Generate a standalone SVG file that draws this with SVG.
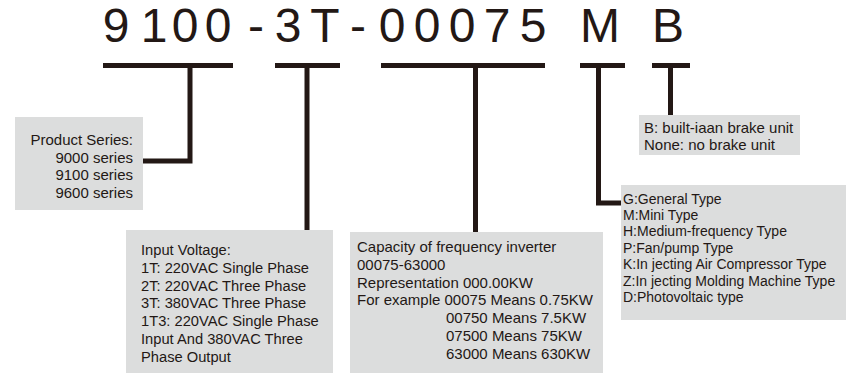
<svg xmlns="http://www.w3.org/2000/svg" width="850" height="373" viewBox="0 0 850 373">
<style>
.bx{fill:#dcdddd}
.t{font-family:"Liberation Sans",Arial,sans-serif;fill:#231815}
.c{fill:none;stroke:#231815;stroke-width:5;stroke-linejoin:miter}
</style>
<rect width="850" height="373" fill="#fff"/>
<g id="title">
<text class="t" font-size="48" text-anchor="middle" y="42" x="116 154 185 218 256 288 325 358 392 427 462 497 533 600 668">9100-3T-00075MB</text>
</g>
<g id="connectors">
<path class="c" d="M103,65.5H233M190,65.5V161H143"/>
<path class="c" d="M275,65.5H340M307,65.5V230"/>
<path class="c" d="M381,65.5H545M475.5,65.5V232"/>
<path class="c" d="M580,65.5H625M598.5,65.5V203H621"/>
<path class="c" d="M652,65.5H690M670.5,65.5V115"/>
</g>
<g id="series">
<rect class="bx" x="15" y="117" width="128" height="93"/>
<text class="t" font-size="15" text-anchor="end"><tspan x="133" y="145">Product Series:</tspan><tspan x="133" y="162.5">9000 series</tspan><tspan x="133" y="180">9100 series</tspan><tspan x="133" y="197.5">9600 series</tspan></text>
</g>
<g id="voltage">
<rect class="bx" x="126" y="230" width="207" height="143"/>
<text class="t" font-size="14.7"><tspan x="141" y="255">Input Voltage:</tspan><tspan x="141" y="273">1T: 220VAC Single Phase</tspan><tspan x="141" y="290.7">2T: 220VAC Three Phase</tspan><tspan x="141" y="308.4">3T: 380VAC Three Phase</tspan><tspan x="141" y="326.1">1T3: 220VAC Single Phase</tspan><tspan x="141" y="343.8">Input And 380VAC Three</tspan><tspan x="141" y="361.5">Phase Output</tspan></text>
</g>
<g id="capacity">
<rect class="bx" x="350" y="232" width="253" height="141"/>
<text class="t" font-size="15"><tspan x="357" y="252">Capacity of frequency inverter</tspan><tspan x="357" y="269.8">00075-63000</tspan><tspan x="357" y="287.6">Representation 000.00KW</tspan><tspan x="357" y="305.4">For example 00075 Means 0.75KW</tspan><tspan x="446" y="323.2">00750 Means 7.5KW</tspan><tspan x="446" y="341">07500 Means 75KW</tspan><tspan x="446" y="358.8">63000 Means 630KW</tspan></text>
</g>
<g id="type">
<rect class="bx" x="621" y="185" width="225" height="135"/>
<text class="t" font-size="14"><tspan x="623" y="203.5">G:General Type</tspan><tspan x="623" y="219.9">M:Mini Type</tspan><tspan x="623" y="236.3">H:Medium-frequency Type</tspan><tspan x="623" y="252.7">P:Fan/pump Type</tspan><tspan x="623" y="269.1">K:In jecting Air Compressor Type</tspan><tspan x="623" y="285.5">Z:In jecting Molding Machine Type</tspan><tspan x="623" y="301.9">D:Photovoltaic type</tspan></text>
</g>
<g id="brake">
<rect class="bx" x="639" y="115" width="161" height="40"/>
<text class="t" font-size="15"><tspan x="644" y="133">B: built-iaan brake unit</tspan><tspan x="644" y="150">None: no brake unit</tspan></text>
</g>
</svg>
